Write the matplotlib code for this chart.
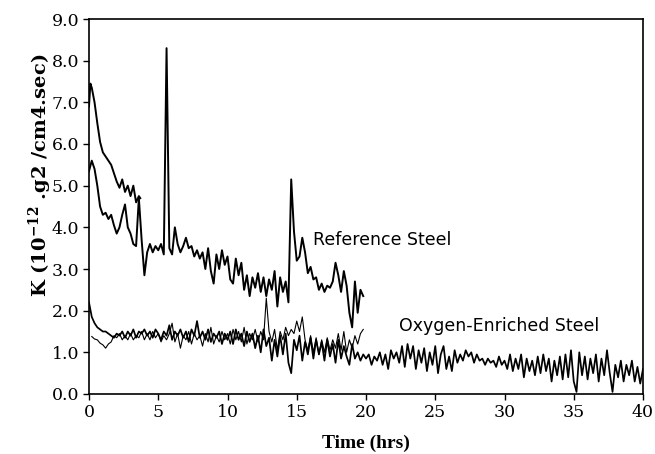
import numpy as np
import matplotlib
matplotlib.use("Agg")
import matplotlib.pyplot as plt

plt.rcParams["mathtext.fontset"] = "dejavuserif"

# Reference steel, run 1 (short upper trace)
ref1_t = [0.0, 0.1, 0.2, 0.4, 0.6, 0.8, 1.0, 1.2, 1.4, 1.6, 1.8, 2.0, 2.2, 2.4,
          2.6, 2.8, 3.0, 3.2, 3.4, 3.6, 3.7]
ref1_k = [6.9, 7.45, 7.35, 7.0, 6.5, 6.05, 5.8, 5.7, 5.6, 5.5, 5.3, 5.1, 4.95, 5.15,
          4.85, 5.0, 4.75, 5.0, 4.6, 4.75, 4.7]

# Reference steel, run 2 (0 - 19.8 h, step 0.2 h)
ref2_start, ref2_step = 0.0, 0.2
ref2_k = [5.35, 5.6, 5.4, 5.0, 4.5, 4.3, 4.35, 4.2, 4.3, 4.05,
          3.85, 4.0, 4.3, 4.55, 4.0, 3.85, 3.6, 3.55, 4.7, 3.7,
          2.85, 3.4, 3.6, 3.4, 3.55, 3.45, 3.6, 3.35, 8.3, 3.5,
          3.35, 4.0, 3.6, 3.4, 3.55, 3.75, 3.5, 3.55, 3.3, 3.45,
          3.25, 3.4, 3.0, 3.5, 2.95, 2.65, 3.35, 3.0, 3.45, 3.1,
          3.3, 2.75, 2.65, 3.25, 2.85, 3.15, 2.5, 2.85, 2.35, 2.8,
          2.55, 2.9, 2.45, 2.8, 2.35, 2.75, 2.5, 2.95, 2.1, 2.8,
          2.45, 2.7, 2.2, 5.15, 3.9, 3.2, 3.3, 3.75, 3.4, 2.9,
          3.05, 2.75, 2.8, 2.5, 2.65, 2.45, 2.6, 2.55, 2.7, 3.15,
          2.85, 2.45, 2.95, 2.6, 1.95, 1.6, 2.7, 1.95, 2.5, 2.35]

# Oxygen-enriched steel, run 1 (0 - 40 h, step 0.2 h)
oxy1_start, oxy1_step = 0.0, 0.2
oxy1_k = [2.2, 1.85, 1.7, 1.6, 1.55, 1.5, 1.5, 1.45, 1.4, 1.35,
          1.45, 1.4, 1.5, 1.35, 1.5, 1.4, 1.55, 1.35, 1.5, 1.45,
          1.55, 1.4, 1.5, 1.35, 1.55, 1.45, 1.3, 1.5, 1.4, 1.65,
          1.3, 1.5, 1.4, 1.55, 1.35, 1.5, 1.25, 1.55, 1.4, 1.75,
          1.35, 1.5, 1.3, 1.55, 1.25, 1.45, 1.35, 1.5, 1.2, 1.45,
          1.3, 1.5, 1.2, 1.55, 1.3, 1.45, 1.15, 1.5, 1.25, 1.45,
          1.1, 1.4, 1.0, 1.55, 1.15, 1.35, 0.8, 1.3, 0.9, 1.4,
          0.95, 1.45, 0.75, 0.5, 1.3, 1.05, 1.4, 0.8, 1.25, 0.95,
          1.35, 0.85, 1.3, 0.95, 1.25, 0.8, 1.3, 0.9, 1.2, 0.75,
          1.3, 0.85, 1.15, 0.9, 0.7, 1.2, 0.85, 1.0, 0.8, 0.95,
          0.85, 0.95, 0.7, 0.9, 0.8, 1.0, 0.7, 0.95, 0.6, 1.05,
          0.85, 1.0, 0.75, 1.15, 0.65, 1.2, 0.85, 1.15, 0.6, 1.05,
          0.75, 1.1, 0.55, 1.0, 0.7, 1.15, 0.5, 0.95, 1.15, 0.6,
          0.9, 0.55, 1.05, 0.75, 0.95, 0.8, 1.05, 0.9, 1.0, 0.75,
          0.95, 0.8, 0.85, 0.7, 0.85, 0.75, 0.8, 0.65, 0.9, 0.7,
          0.8, 0.6, 0.95, 0.55, 0.85, 0.6, 0.95, 0.4, 0.85, 0.55,
          0.8, 0.45, 0.9, 0.5, 0.95, 0.55, 0.85, 0.3, 0.8, 0.45,
          0.9, 0.35, 0.95, 0.4, 1.05, 0.3, 0.05, 1.0, 0.45, 0.9,
          0.35, 0.85, 0.5, 0.95, 0.3, 0.85, 0.45, 1.05, 0.5, 0.05,
          0.7, 0.4, 0.8, 0.3, 0.7, 0.45, 0.8, 0.3, 0.65, 0.25,
          0.6]

# Oxygen-enriched steel, run 2 (0.2 - 19.8 h, step 0.2 h)
oxy2_start, oxy2_step = 0.2, 0.2
oxy2_k = [1.38, 1.32, 1.3, 1.22, 1.18, 1.1, 1.2, 1.25, 1.4, 1.35,
          1.45, 1.3, 1.4, 1.3, 1.45, 1.3, 1.4, 1.35, 1.5, 1.3,
          1.45, 1.3, 1.5, 1.35, 1.45, 1.25, 1.4, 1.3, 1.45, 1.7,
          1.25, 1.45, 1.1, 1.4, 1.3, 1.5, 1.2, 1.45, 1.3, 1.4,
          1.15, 1.45, 1.25, 1.6, 1.2, 1.4, 1.25, 1.5, 1.3, 1.45,
          1.2, 1.55, 1.3, 1.5, 1.25, 1.6, 1.2, 1.45, 1.3, 1.55,
          1.25, 1.5, 1.3, 2.3, 1.5, 1.25, 1.55, 1.05, 1.5, 1.3,
          1.6, 1.4, 1.55, 1.45, 1.75, 1.5, 1.85, 1.3, 1.05, 1.4,
          1.0, 1.35, 0.95, 1.3, 1.0, 1.35, 1.05, 1.3, 1.1, 1.45,
          1.05, 1.5, 1.0, 1.3, 1.1, 1.4, 1.2, 1.45, 1.55]

x_ticks = [0, 5, 10, 15, 20, 25, 30, 35, 40]
y_ticks = [0.0, 1.0, 2.0, 3.0, 4.0, 5.0, 6.0, 7.0, 8.0, 9.0]


def times(start, step, vals):
    return start + step * np.arange(len(vals))


fig = plt.figure(figsize=(6.55, 4.54), dpi=100)
ax = fig.add_axes([89 / 655, 60 / 454, (643 - 89) / 655, (394 - 19) / 454])

ax.plot(ref1_t, ref1_k, color="black", lw=1.4)
ax.plot(times(ref2_start, ref2_step, ref2_k), ref2_k, color="black", lw=1.4)
ax.plot(times(oxy1_start, oxy1_step, oxy1_k), oxy1_k, color="black", lw=1.25)
ax.plot(times(oxy2_start, oxy2_step, oxy2_k), oxy2_k, color="black", lw=0.8)

ax.set_xlim(0, 40)
ax.set_ylim(0, 9)
ax.set_xticks(x_ticks)
ax.set_xticklabels([str(v) for v in x_ticks], family="DejaVu Serif", fontsize=12.5)
ax.set_yticks(y_ticks)
ax.set_yticklabels([f"{v:.1f}" for v in y_ticks], family="DejaVu Serif", fontsize=12.5)
ax.tick_params(direction="out", length=4, width=1, color="black", pad=3)
for s in ax.spines.values():
    s.set_linewidth(1.2)

ax.text(16.2, 3.7, "Reference Steel", fontsize=12.5, family="DejaVu Sans",
        va="center", ha="left")
ax.text(22.4, 1.63, "Oxygen-Enriched Steel", fontsize=12.5, family="DejaVu Sans",
        va="center", ha="left")

fig.text(366 / 655, 2 / 454, "Time (hrs)", ha="center", va="bottom",
         family="Liberation Serif", fontweight="bold", fontsize=14)
fig.text(40 / 655, (454 - 175) / 454, r"K (10$^{\mathbf{-12}}$ .g2 /cm4.sec)",
         rotation=90, ha="center", va="center", family="DejaVu Serif",
         fontweight="bold", fontsize=14)

fig.savefig("out.png", dpi=100)
